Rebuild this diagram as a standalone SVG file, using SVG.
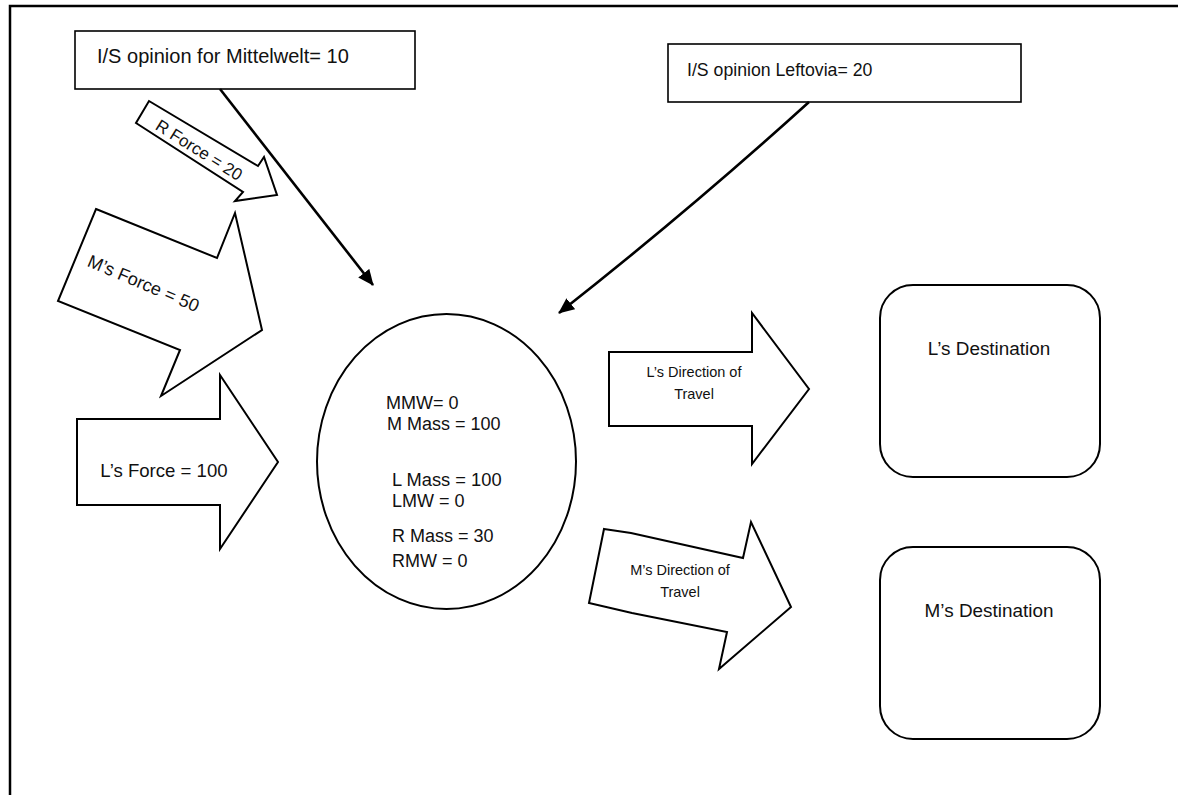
<svg xmlns="http://www.w3.org/2000/svg" width="1178" height="795" viewBox="0 0 1178 795">
  <defs>
    <marker id="head" viewBox="0 0 16 14" refX="15" refY="7" markerWidth="16" markerHeight="14" markerUnits="userSpaceOnUse" orient="auto">
      <path d="M0,0 L16,7 L0,14 z" fill="#000"/>
    </marker>
  </defs>
  <style>
    .frame { fill: none; stroke: #000; stroke-width: 2.5; }
    .box { fill: #fff; stroke: #000; stroke-width: 1.6; }
    .shape { fill: #fff; stroke: #000; stroke-width: 2; stroke-linejoin: miter; }
    .link { fill: none; stroke: #000; stroke-width: 2.6; }
    text { font-family: "Liberation Sans", Arial, sans-serif; fill: #111; }
    .mid { text-anchor: middle; }
  </style>

  <rect width="1178" height="795" fill="#fff"/>

  <!-- page frame: top and left edges only -->
  <path class="frame" d="M10,795 L10,6 L1178,6"/>

  <!-- opinion boxes -->
  <g id="opinion-mittelwelt">
    <rect class="box" x="75" y="31" width="340" height="58"/>
    <text x="97" y="63" font-size="20">I/S opinion for Mittelwelt= 10</text>
  </g>
  <g id="opinion-leftovia">
    <rect class="box" x="668" y="44" width="353" height="58"/>
    <text x="687" y="76" font-size="17.7">I/S opinion Leftovia= 20</text>
  </g>

  <!-- force arrows -->
  <g id="r-force">
    <polygon class="shape" points="149,101 258,166 264,157 277,195 235,201 243,192 136,123"/>
    <text x="196" y="155" font-size="17" class="mid" transform="rotate(32 196 155)">R Force = 20</text>
  </g>
  <g id="m-force">
    <polygon class="shape" points="96,209 217,258 235,213 262,330 161,396 180,350 58,301"/>
    <text x="141" y="289" font-size="18" class="mid" transform="rotate(23 141 289)">M’s Force = 50</text>
  </g>
  <g id="l-force">
    <polygon class="shape" points="77,419 220,419 220,375 278,462 220,549 220,505 77,505"/>
    <text x="164" y="477" font-size="18.6" class="mid">L’s Force = 100</text>
  </g>

  <!-- central mass body -->
  <g id="mass-body">
    <ellipse class="shape" cx="446.5" cy="461.5" rx="129.5" ry="147.5"/>
    <text x="386" y="409" font-size="18">MMW= 0</text>
    <text x="387" y="430" font-size="18">M Mass = 100</text>
    <text x="392" y="486" font-size="18.3">L Mass = 100</text>
    <text x="392" y="507" font-size="18">LMW = 0</text>
    <text x="392" y="542" font-size="18">R Mass = 30</text>
    <text x="392" y="567" font-size="18">RMW = 0</text>
  </g>

  <!-- direction arrows -->
  <g id="l-direction">
    <polygon class="shape" points="609,352 752,352 752,313 809,389 752,464 752,426 609,426"/>
    <text x="694" y="377" font-size="14.5" class="mid">L’s Direction of</text>
    <text x="694" y="399" font-size="14.5" class="mid">Travel</text>
  </g>
  <g id="m-direction">
    <polygon class="shape" points="604,529 631,533 743,558 751,522 791,607 719,669 727,632 632,613 589,603"/>
    <text x="680" y="575" font-size="14.5" class="mid">M’s Direction of</text>
    <text x="680" y="597" font-size="14.5" class="mid">Travel</text>
  </g>

  <!-- destinations -->
  <g id="l-destination">
    <rect class="shape" x="880" y="285" width="220" height="192" rx="33" ry="33"/>
    <text x="989" y="355" font-size="18.9" class="mid">L’s Destination</text>
  </g>
  <g id="m-destination">
    <rect class="shape" x="880" y="547" width="220" height="192" rx="33" ry="33"/>
    <text x="989" y="617" font-size="18.9" class="mid">M’s Destination</text>
  </g>

  <!-- opinion influence connectors -->
  <g id="connectors">
    <line class="link" x1="220" y1="89" x2="373" y2="285" marker-end="url(#head)"/>
    <path class="link" d="M809,102 Q690,210 559,313" marker-end="url(#head)"/>
  </g>
</svg>
